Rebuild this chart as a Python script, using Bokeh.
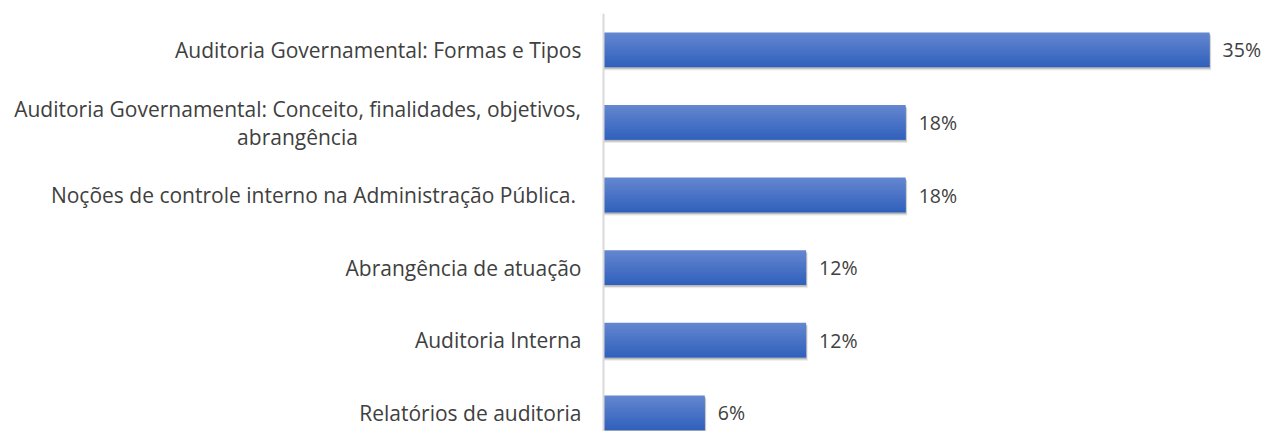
from bokeh.plotting import figure
from bokeh.models import Range1d, ColumnDataSource, Span
from bokeh.core.properties import value
from bokeh.embed import file_html
from bokeh.resources import INLINE

categories = [
    "Auditoria Governamental: Formas e Tipos",
    "Auditoria Governamental: Conceito, finalidades, objetivos,\nabrangência",
    "Noções de controle interno na Administração Pública. ",
    "Abrangência de atuação",
    "Auditoria Interna",
    "Relatórios de auditoria",
]
values = [35.3, 17.6, 17.6, 11.8, 11.8, 5.9]
value_labels = ["35%", "18%", "18%", "12%", "12%", "6%"]

FONT = "Open Sans"
FS = "21px"
TXT = "#404040"
PX_PER_UNIT = 17.17

n = len(categories)
ypos = [n - 1 - i for i in range(n)]

W = 1263
H = 431
TOP = 13
AXIS_X = 603
PX_PER_CAT = 72.6
p = figure(width=W, height=H, output_backend="svg", toolbar_location=None,
           x_range=Range1d(-AXIS_X / PX_PER_UNIT, (W - AXIS_X) / PX_PER_UNIT),
           y_range=Range1d(5.5 - (H - TOP) / PX_PER_CAT, 5.5),
           min_border_left=0, min_border_top=TOP, min_border_bottom=0, min_border_right=0)
p.outline_line_color = None
p.xgrid.visible = False
p.ygrid.visible = False
p.xaxis.visible = False
p.yaxis.visible = False
p.background_fill_color = "white"
p.border_fill_color = "white"

# vertical category axis line
p.add_layout(Span(location=0, dimension="height", line_color="#D9D9D9", line_width=2))

# category labels
single = dict(y=[], t=[])
multi = dict(y=[], t=[])
for yy, c in zip(ypos, categories):
    d = multi if "\n" in c else single
    d["y"].append(yy)
    d["t"].append(c)

p.text(x=0, y="y", text="t", source=ColumnDataSource(single), x_offset=-22,
       text_align="right", text_baseline="middle", text_font=value(FONT),
       text_font_size=FS, text_color=TXT)
p.text(x=0, y="y", text="t", source=ColumnDataSource(multi), x_offset=-306,
       y_offset=1, text_align="center", text_baseline="middle", text_font=value(FONT),
       text_font_size=FS, text_color=TXT, text_line_height=1.0)

src = ColumnDataSource(dict(y=ypos, v=values, lab=value_labels))

bh = 0.48
# soft shadow
for dy, dx, a in [(0.045, 0.10, 0.06), (0.032, 0.07, 0.10), (0.02, 0.04, 0.14)]:
    p.hbar(y=[yy - dy for yy in ypos], left=0, right=[v + dx for v in values],
           height=bh, fill_color="#000000", fill_alpha=a, line_color=None)

# gradient fill via horizontal slices
top = (101, 135, 208)
bot = (47, 96, 188)
N = 16
for k in range(N):
    t = (k + 0.5) / N
    c = tuple(int(round(top[j] + (bot[j] - top[j]) * t)) for j in range(3))
    col = "#%02x%02x%02x" % c
    sl = bh / N
    topy = bh / 2 - k * sl
    h = sl * (1.8 if k < N - 1 else 1.0)
    p.hbar(y=[yy + topy - h / 2 for yy in ypos], left=0, right=values, height=h,
           fill_color=col, line_color=None)

p.text(x="v", y="y", text="lab", source=src, x_offset=13, text_baseline="middle",
       text_align="left", text_font=value(FONT), text_font_size="19.5px", text_color=TXT)

open("out.html", "w").write(file_html(p, INLINE))
